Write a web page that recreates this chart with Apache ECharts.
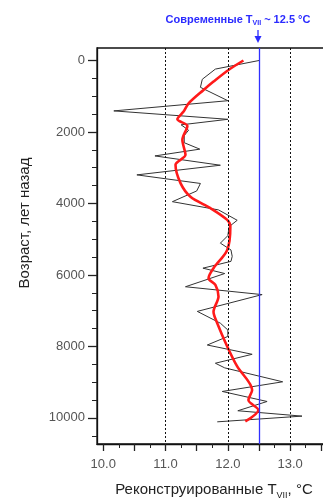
<!DOCTYPE html>
<html><head><meta charset="utf-8">
<script src="https://cdn.jsdelivr.net/npm/echarts@6/dist/echarts.min.js"></script>
<style>html,body{margin:0;padding:0;background:#fff;overflow:hidden;width:323px;height:501px}#c{width:345px;height:501px}</style>
</head><body><div id="c"></div>
<script>
// Raw reconstruction (black)
const ageRaw = [0,240,525,750,1125,1410,1645,1800,1950,2100,2300,2480,2670,2930,3200,3440,3650,3950,4180,4470,4650,4900,5110,5300,5480,5620,5810,5960,6330,6550,7020,7350,7540,7720,7960,8220,8470,8600,8990,9260,9540,9800,9950,10110];
const tempRaw = [12.5,11.80,11.59,11.56,12.0,10.17,12.0,11.25,11.37,11.3,11.3,11.55,10.83,11.88,10.54,11.56,11.5,11.11,11.85,12.15,12.02,12.0,11.88,12.05,12.07,12.05,11.6,11.95,11.32,12.55,11.51,11.88,12.0,12.0,11.67,12.39,11.8,11.95,12.88,11.91,12.63,12.16,13.19,11.83];
// Smoothed reconstruction (red)
const ageSmooth = [0,265,590,825,1200,1430,1645,1830,2220,2640,2920,3430,3810,4130,4460,4650,5300,5810,6090,6280,6600,7030,7350,8000,8560,9220,9500,9780,10100];
const tempSmooth = [12.25,12.01,11.77,11.61,11.37,11.29,11.19,11.35,11.27,11.32,11.16,11.24,11.40,11.72,11.99,12.04,11.99,11.77,11.69,11.80,11.85,11.77,11.83,11.99,12.15,12.39,12.33,12.49,12.28];
// Reference lines and ticks
const modernT = 12.5;
const gridX = [11, 12, 13];
const xMajorTicks = [10,10.5,11,11.5,12,12.5,13,13.5];
const xMinorTicks = [10.25,10.75,11.25,11.75,12.25,12.75,13.25,13.75];
const xLabels = [10,11,12,13];
const yLabels = [0,2000,4000,6000,8000,10000];
const yMinorTicks = [500,1000,1500,2500,3000,3500,4500,5000,5500,6500,7000,7500,8500,9000,9500,10500];

const FONT = 'Liberation Sans, Arial, sans-serif';
const chart = echarts.init(document.getElementById('c'));
const xBase = {type:'value', min:9.9, max:13.8, position:'bottom', splitLine:{show:false}};
const yBase = {type:'value', min:-350, max:10730, inverse:true, position:'left', splitLine:{show:false}};
chart.setOption({
  animation:false,
  grid:{left:97, top:48, right:5, bottom:57, containLabel:false, show:true, borderColor:'#111', borderWidth:1.3, backgroundColor:'transparent'},
  xAxis:[
    Object.assign({}, xBase, {
      axisLine:{show:true, onZero:false, lineStyle:{color:'#111', width:1.3}},
      axisTick:{show:true, customValues:xMajorTicks, length:7, lineStyle:{color:'#222', width:1.3}},
      axisLabel:{show:true, customValues:xLabels, margin:14, color:'#555', fontSize:13, fontFamily:FONT, formatter:v=>v.toFixed(1)}
    }),
    Object.assign({}, xBase, {
      axisLine:{show:false, onZero:false},
      axisTick:{show:true, customValues:xMinorTicks, length:4, lineStyle:{color:'#222', width:1}},
      axisLabel:{show:false}
    })
  ],
  yAxis:[
    Object.assign({}, yBase, {
      axisLine:{show:true, onZero:false, lineStyle:{color:'#111', width:1.3}},
      axisTick:{show:true, customValues:yLabels, length:9, lineStyle:{color:'#222', width:1.3}},
      axisLabel:{show:true, customValues:yLabels, margin:12, color:'#555', fontSize:13, fontFamily:FONT, formatter:v=>String(v)}
    }),
    Object.assign({}, yBase, {
      axisLine:{show:false, onZero:false},
      axisTick:{show:true, customValues:yMinorTicks, length:5, lineStyle:{color:'#222', width:1}},
      axisLabel:{show:false}
    })
  ],
  series:[
    {
      type:'line', xAxisIndex:0, yAxisIndex:0, symbol:'none',
      data: tempRaw.map((t,i)=>[t, ageRaw[i]]),
      lineStyle:{color:'#333', width:1},
      z:3,
      markLine:{
        silent:true, symbol:'none', label:{show:false},
        data:[
          ...gridX.map(v=>({xAxis:v, lineStyle:{color:'#111', type:[2,2], width:1}})),
          {xAxis:modernT, lineStyle:{color:'#3030ff', type:'solid', width:1.3}}
        ]
      }
    },
    {
      type:'line', xAxisIndex:0, yAxisIndex:0, symbol:'none', smooth:0.3,
      data: tempSmooth.map((t,i)=>[t, ageSmooth[i]]),
      lineStyle:{color:'#ff1a1a', width:2.6},
      z:4
    }
  ],
  graphic:[
    {type:'text', x:238, y:20, style:{
      text:'{a|Современные T}{s|VII}{a| ~ 12.5 °C}', align:'center', verticalAlign:'middle',
      rich:{
        a:{fontSize:11, fontWeight:'bold', fill:'#2b2bff', fontFamily:FONT, lineHeight:14, verticalAlign:'middle'},
        s:{fontSize:7, fontWeight:'bold', fill:'#2b2bff', fontFamily:FONT, lineHeight:7, verticalAlign:'bottom'}
      }}},
    {type:'line', shape:{x1:258, y1:30, x2:258, y2:38}, style:{stroke:'#2b2bff', lineWidth:1.3}},
    {type:'polygon', shape:{points:[[254.5,36],[261.5,36],[258,43]]}, style:{fill:'#2b2bff'}},
    {type:'text', x:214, y:490, style:{
      text:'{a|Реконструированные T}{s|VII}{a|, °C}', align:'center', verticalAlign:'middle',
      rich:{
        a:{fontSize:15, fill:'#222', fontFamily:FONT, lineHeight:20, verticalAlign:'middle'},
        s:{fontSize:9, fill:'#222', fontFamily:FONT, lineHeight:9, verticalAlign:'bottom'}
      }}},
    {type:'text', x:25, y:223, rotation:Math.PI/2, style:{
      text:'Возраст, лет назад', align:'center', verticalAlign:'middle',
      fontSize:15, fill:'#222', fontFamily:FONT}}
  ]
});
</script></body></html>
